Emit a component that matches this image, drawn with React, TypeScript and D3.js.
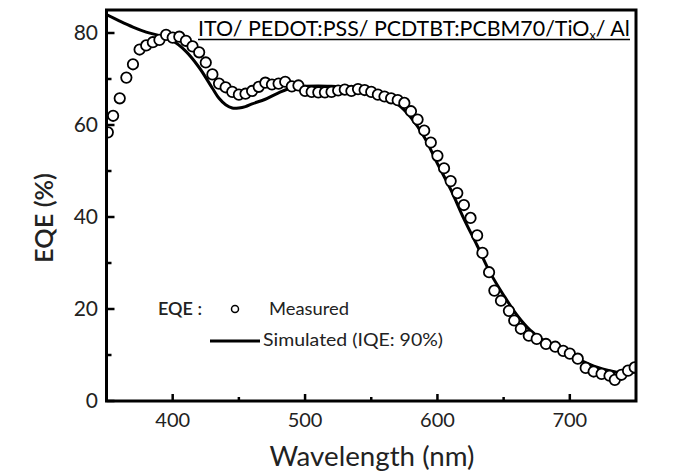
import React, { useLayoutEffect, useRef, useState } from "react";
import * as d3 from "d3";

const measuredWl = [351, 355, 360, 365, 370, 375, 380, 385, 390, 395, 400, 405, 410, 415, 420, 425, 430, 435, 440, 445, 450, 455, 460, 465, 470, 475, 480, 485, 490, 495, 500, 505, 510, 515, 520, 525, 530, 535, 540, 545, 550, 555, 560, 565, 570, 575, 580, 585, 590, 595, 600, 605, 610, 615, 620, 625, 630, 634, 639, 643, 648, 654, 658, 663, 669, 675, 682, 689, 695, 700, 706, 712, 718, 724, 730, 734, 739, 744, 749];
const measuredEqe = [58.4, 62, 65.8, 70.3, 73.2, 76.4, 77.3, 78, 78.5, 79.6, 79, 79.2, 78.3, 77.1, 75.8, 73.6, 71, 69, 68.2, 67.2, 66.6, 66.8, 67.4, 68.3, 69.2, 68.8, 69, 69.4, 68.4, 68.6, 67.4, 67.2, 67.1, 67.1, 67.2, 67.5, 67.7, 67.4, 67.8, 67.6, 67.2, 66.6, 66.2, 65.8, 65.4, 64.8, 63, 61.2, 58.8, 56.2, 53.3, 50.6, 47.8, 45.2, 42.6, 39.8, 36, 32.2, 28, 24, 21.8, 19.6, 17.5, 15.7, 14.2, 13.5, 12.4, 11.8, 10.9, 10.3, 9.2, 7.2, 6.4, 5.9, 5.5, 4.6, 5.7, 6.6, 7.3];

const simWl = [350, 360, 370, 380, 390, 400, 410, 420, 430, 435, 440, 445, 450, 455, 460, 470, 480, 490, 500, 510, 520, 530, 540, 550, 560, 570, 580, 590, 600, 610, 620, 630, 640, 650, 660, 670, 680, 690, 700, 710, 720, 730, 740, 750];
const simEqe = [84, 82.6, 81.3, 80.2, 79.4, 78.3, 76, 72.5, 68, 65.8, 64.4, 63.7, 63.7, 64, 64.6, 65.6, 67, 68.1, 68.4, 68.5, 68.4, 68.3, 68, 67.2, 66, 64.5, 61.6, 57.4, 51.6, 46, 39.6, 33.8, 27.8, 23, 18.7, 15.4, 13.2, 11.6, 10, 8.6, 7.4, 6.6, 6.1, 6.3];

const xMajor = [400, 500, 600, 700];
const xMinor = [450, 550, 650];
const yMajor = [0, 20, 40, 60, 80];
const yMinor = [10, 30, 50, 70];

const FONT = "Lato, 'Open Sans', sans-serif";

export default function App() {
  const x = d3.scaleLinear().domain([350, 750]).range([106.5, 636]);
  const y = d3.scaleLinear().domain([0, 85]).range([401, 10]);

  const titleRef = useRef<SVGTextElement>(null);
  const [sx, setSx] = useState(1);
  useLayoutEffect(() => {
    if (titleRef.current) {
      const w = titleRef.current.getBBox().width;
      if (w > 0) setSx(432 / w);
    }
  }, []);

  const simData = simWl.map((w, i) => [w, simEqe[i]] as [number, number]);
  const line = d3
    .line<[number, number]>()
    .x((d) => x(d[0]))
    .y((d) => y(d[1]))
    .curve(d3.curveCatmullRom.alpha(0.5));

  const measData = measuredWl.map((w, i) => [w, measuredEqe[i]] as [number, number]);

  return (
    <svg
      width={685}
      height={471}
      style={{ position: "absolute", left: 0, top: 0, background: "#fff" }}
      fontFamily={FONT}
    >
      <rect x={0} y={0} width={685} height={471} fill="#fff" />
      <defs>
        <clipPath id="plotclip">
          <rect x={x(350)} y={y(85)} width={x(750) - x(350)} height={y(0) - y(85)} />
        </clipPath>
      </defs>

      <g clipPath="url(#plotclip)">
        <path d={line(simData) || ""} fill="none" stroke="#000" strokeWidth={3} />
        {measData.map((d, i) => (
          <circle
            key={i}
            cx={x(d[0])}
            cy={y(d[1])}
            r={5.2}
            fill="#fff"
            stroke="#000"
            strokeWidth={1.8}
          />
        ))}
      </g>

      {/* frame */}
      <rect
        x={x(350)}
        y={y(85)}
        width={x(750) - x(350)}
        height={y(0) - y(85)}
        fill="none"
        stroke="#000"
        strokeWidth={3}
      />

      {/* x ticks */}
      {xMajor.map((t) => (
        <line key={"xM" + t} x1={x(t)} x2={x(t)} y1={y(0)} y2={y(0) - 7} stroke="#000" strokeWidth={2.5} />
      ))}
      {xMinor.map((t) => (
        <line key={"xm" + t} x1={x(t)} x2={x(t)} y1={y(0)} y2={y(0) - 4} stroke="#000" strokeWidth={2.5} />
      ))}
      {xMajor.map((t) => (
        <text key={"xl" + t} x={x(t)} y={427} textAnchor="middle" fontSize={20} fill="#222">
          {t}
        </text>
      ))}

      {/* y ticks */}
      {yMajor.map((t) => (
        <line key={"yM" + t} x1={x(350)} x2={x(350) + 8} y1={y(t)} y2={y(t)} stroke="#000" strokeWidth={2.5} />
      ))}
      {yMinor.map((t) => (
        <line key={"ym" + t} x1={x(350)} x2={x(350) + 5} y1={y(t)} y2={y(t)} stroke="#000" strokeWidth={2.5} />
      ))}
      {yMajor.map((t) => (
        <text key={"yl" + t} x={98} y={y(t) + 7} textAnchor="end" fontSize={21} fill="#222">
          {t}
        </text>
      ))}

      {/* axis titles */}
      <text x={372} y={466} textAnchor="middle" fontSize={27} fill="#222" textLength={205} lengthAdjust="spacingAndGlyphs">
        Wavelength (nm)
      </text>
      <text
        transform={`translate(53,218) rotate(-90)`}
        textAnchor="middle"
        fontSize={25}
        fontWeight={600}
        fill="#222"
        textLength={90}
        lengthAdjust="spacingAndGlyphs"
      >
        EQE (%)
      </text>

      {/* title */}
      <g transform={`translate(198,36) scale(${sx},1)`}>
        <text ref={titleRef} x={0} y={0} fontSize={22} fill="#000">
          ITO/ PEDOT:PSS/ PCDTBT:PCBM70/TiO
          <tspan fontSize={13} dy={4}>x</tspan>
          <tspan dy={-4}>/ Al</tspan>
        </text>
      </g>
      <line x1={198} x2={630} y1={39.5} y2={39.5} stroke="#000" strokeWidth={1.5} />

      {/* legend */}
      <text x={158} y={315} fontSize={17} fontWeight={600} fill="#222" textLength={44} lengthAdjust="spacingAndGlyphs">
        EQE :
      </text>
      <circle cx={235} cy={309} r={3.5} fill="#fff" stroke="#000" strokeWidth={1.5} />
      <text x={269} y={315} fontSize={18} fill="#222" textLength={80} lengthAdjust="spacingAndGlyphs">
        Measured
      </text>
      <line x1={210} x2={260} y1={341} y2={341} stroke="#000" strokeWidth={3} />
      <text x={263} y={346} fontSize={18} fill="#222" textLength={180} lengthAdjust="spacingAndGlyphs">
        Simulated (IQE: 90%)
      </text>
    </svg>
  );
}
